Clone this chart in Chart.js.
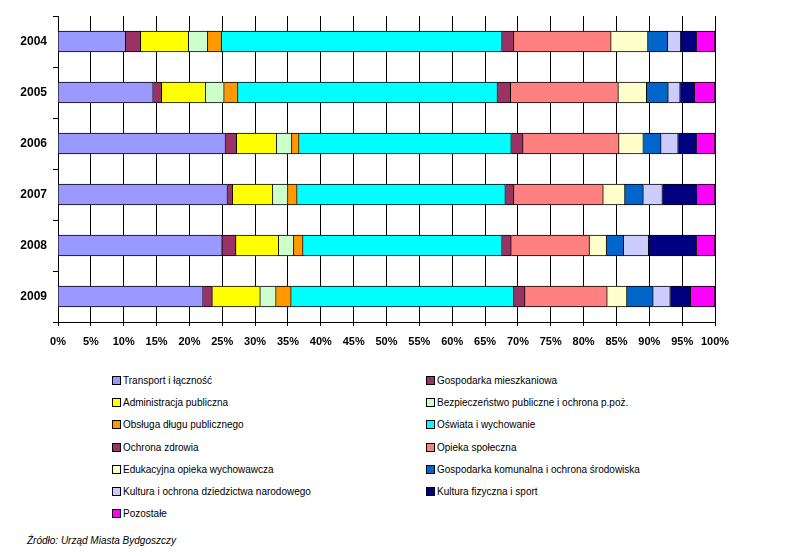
<!DOCTYPE html>
<html>
<head>
<meta charset="utf-8">
<script src="https://cdn.jsdelivr.net/npm/chart.js@4"></script>
<style>
  body { margin: 0; background: #fff; font-family: 'Liberation Sans', Arial, sans-serif; }
  #wrap { position: relative; width: 787px; height: 556px; }
  #chart-box { position: absolute; left: 0; top: 0; width: 787px; height: 360px; }
  .legend-item { position: absolute; font-size: 10px; color: #000; white-space: nowrap; line-height: 12px; }
  .legend-item .box { display: inline-block; width: 7px; height: 7px; border: 1px solid #000; vertical-align: -1px; margin-right: 2px; }
  #source { position: absolute; left: 27px; top: 535px; font-size: 10px; font-style: italic; color: #000; }
</style>
</head>
<body>
<div id="wrap">
  <div id="chart-box"><canvas id="budget-chart" width="787" height="360"></canvas></div>
  <div id="legend"></div>
  <div id="source">Źródło: Urząd Miasta Bydgoszczy</div>
</div>
<script>
const years = ['2004', '2005', '2006', '2007', '2008', '2009'];

const seriesNames = [
    'Transport i łączność',
    'Gospodarka mieszkaniowa',
    'Administracja publiczna',
    'Bezpieczeństwo publiczne i ochrona p.poż.',
    'Obsługa długu publicznego',
    'Oświata i wychowanie',
    'Ochrona zdrowia',
    'Opieka społeczna',
    'Edukacyjna opieka wychowawcza',
    'Gospodarka komunalna i ochrona środowiska',
    'Kultura i ochrona dziedzictwa narodowego',
    'Kultura fizyczna i sport',
    'Pozostałe'
];

const seriesColors = [
    '#9999ff', '#993366', '#ffff00', '#ccffcc', '#ff9900', '#00ffff', '#993366',
    '#ff8080', '#ffffcc', '#0066cc', '#ccccff', '#000080', '#ff00ff'
];

// udział procentowy wydatków, kolejno lata 2004-2009
const transport   = [10.3, 14.5, 25.5, 25.8, 25.0, 22.1];
const mieszkaniowa = [2.3, 1.3, 1.7, 0.8, 2.1, 1.4];
const administracja = [7.3, 6.7, 6.1, 6.1, 6.5, 7.3];
const bezpieczenstwo = [2.9, 2.8, 2.3, 2.3, 2.3, 2.4];
const dlug        = [2.1, 2.1, 1.1, 1.4, 1.4, 2.3];
const oswiata     = [42.7, 39.5, 32.3, 31.7, 30.3, 33.9];
const zdrowie     = [1.8, 2.0, 1.8, 1.3, 1.4, 1.7];
const opieka      = [14.8, 16.4, 14.6, 13.6, 11.9, 12.5];
const edukacyjna  = [5.6, 4.3, 3.7, 3.3, 2.6, 3.0];
const komunalna   = [3.0, 3.3, 2.7, 2.8, 2.6, 4.0];
const dziedzictwo = [2.0, 1.8, 2.6, 2.9, 3.8, 2.6];
const sport       = [2.4, 2.2, 2.8, 5.3, 7.3, 3.1];
const pozostale   = [2.8, 3.1, 2.8, 2.7, 2.8, 3.7];

const seriesValues = [
    transport, mieszkaniowa, administracja, bezpieczenstwo, dlug, oswiata, zdrowie,
    opieka, edukacyjna, komunalna, dziedzictwo, sport, pozostale
];

const xTicks = [0, 5, 10, 15, 20, 25, 30, 35, 40, 45, 50, 55, 60, 65, 70, 75, 80, 85, 90, 95, 100];

const FONT = "'Liberation Sans', Arial, sans-serif";

new Chart(document.getElementById('budget-chart'), {
    type: 'bar',
    data: {
        labels: years,
        datasets: seriesNames.map((name, i) => ({
            label: name,
            data: seriesValues[i],
            backgroundColor: seriesColors[i],
            borderColor: '#000',
            borderWidth: 1,
            borderSkipped: 'start',
            barThickness: 21
        }))
    },
    options: {
        indexAxis: 'y',
        responsive: false,
        animation: false,
        layout: { padding: { top: 16, right: 72, left: 0, bottom: 8 } },
        plugins: { legend: { display: false }, tooltip: { enabled: false } },
        scales: {
            x: {
                stacked: true,
                min: 0,
                max: 100,
                afterFit: s => { s.height = 30; },
                afterBuildTicks: s => { s.ticks = xTicks.map(v => ({ value: v })); },
                grid: { color: '#000', lineWidth: 1, tickLength: 4 },
                border: { color: '#000' },
                ticks: {
                    padding: 9,
                    color: '#000',
                    font: { family: FONT, size: 11, weight: 'bold' },
                    callback: v => v + '%',
                    maxRotation: 0,
                    autoSkip: false
                }
            },
            y: {
                stacked: true,
                afterFit: s => { s.width = 58; },
                grid: { offset: true, drawOnChartArea: false, color: '#000', tickLength: 5 },
                border: { color: '#000' },
                ticks: {
                    padding: 6,
                    color: '#000',
                    font: { family: FONT, size: 12, weight: 'bold' }
                }
            }
        }
    }
});

// legenda w dwóch kolumnach, wierszami
const legend = document.getElementById('legend');
legend.innerHTML = seriesNames.map((name, i) => {
    const col = i % 2;
    const row = Math.floor(i / 2);
    const left = col === 0 ? 112 : 426;
    const top = 375 + row * 22.2;
    return `<div class="legend-item" style="left:${left}px;top:${top}px;">` +
        `<span class="box" style="background:${seriesColors[i]}"></span>${name}</div>`;
}).join('');
</script>
</body>
</html>
